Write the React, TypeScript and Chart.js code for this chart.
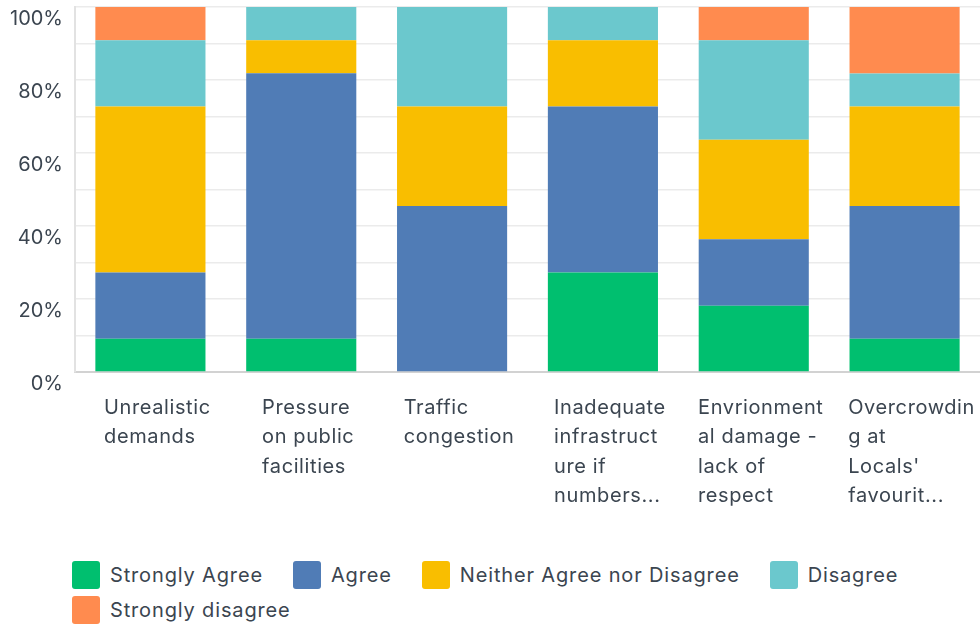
import React, { useEffect, useRef } from "react";
import { Chart, registerables } from "chart.js";

Chart.register(...registerables);

const categories: string[][] = [
  ["Unrealistic", "demands"],
  ["Pressure", "on public", "facilities"],
  ["Traffic", "congestion"],
  ["Inadequate", "infrastruct", "ure if", "numbers..."],
  ["Envrionment", "al damage -", "lack of", "respect"],
  ["Overcrowdin", "g at", "Locals'", "favourit..."],
];

const seriesNames = [
  "Strongly Agree",
  "Agree",
  "Neither Agree nor Disagree",
  "Disagree",
  "Strongly disagree",
];

const stronglyAgree = [9.09, 9.09, 0, 27.27, 18.18, 9.09];
const agree = [18.18, 72.73, 45.45, 45.45, 18.18, 36.36];
const neither = [45.45, 9.09, 27.27, 18.18, 27.27, 27.27];
const disagree = [18.18, 9.09, 27.27, 9.09, 27.27, 9.09];
const stronglyDisagree = [9.09, 0, 0, 0, 9.09, 18.18];

const seriesColors = ["#00bf6f", "#507cb6", "#f9be00", "#6bc8cd", "#ff8b4f"];

const FONT = "Inter, 'Open Sans', sans-serif";
const TEXT = "#3b4550";

const xLabelPlugin = {
  id: "xBlockLabels",
  afterDraw(chart: any) {
    const { ctx, chartArea } = chart;
    const x = chart.scales.x;
    ctx.save();
    ctx.font = `20px ${FONT}`;
    ctx.fillStyle = TEXT;
    ctx.textAlign = "left";
    ctx.textBaseline = "middle";
    (ctx as any).letterSpacing = "0.6px";
    categories.forEach((lines, i) => {
      const w = Math.max(...lines.map((l) => ctx.measureText(l).width));
      const left = x.getPixelForValue(i) - w / 2 + 7;
      lines.forEach((l, j) => ctx.fillText(l, left, chartArea.bottom + 36 + j * 29.3));
    });
    ctx.restore();
  },
};

export default function App() {
  const ref = useRef<HTMLCanvasElement | null>(null);

  useEffect(() => {
    document.body.style.margin = "0";
    const values = [stronglyAgree, agree, neither, disagree, stronglyDisagree];
    const chart = new Chart(ref.current as HTMLCanvasElement, {
      type: "bar",
      data: {
        labels: categories.map((c) => c.join(" ")),
        datasets: seriesNames.map((name, i) => ({
          label: name,
          data: values[i],
          backgroundColor: seriesColors[i],
          borderWidth: 0,
          barPercentage: 0.73,
          categoryPercentage: 1,
        })),
      },
      plugins: [xLabelPlugin],
      options: {
        animation: false,
        responsive: true,
        maintainAspectRatio: false,
        layout: { padding: { top: 7, left: 0, right: 0, bottom: 0 } },
        plugins: {
          legend: { display: false },
          tooltip: { enabled: false },
        },
        scales: {
          x: {
            stacked: true,
            offset: true,
            grid: { display: false },
            border: { display: true, color: "#d2d2d2", width: 2 },
            ticks: { display: false },
            afterFit: (s: any) => {
              s.height = 168;
              s.paddingLeft = 0;
              s.paddingRight = 0;
            },
          },
          y: {
            stacked: true,
            min: 0,
            max: 100,
            grid: { color: "#ebebeb", lineWidth: 1.5, drawTicks: false },
            border: { display: true, color: "#e2e2e2", width: 2 },
            ticks: {
              stepSize: 10,
              padding: 12,
              labelOffset: 12,
              color: TEXT,
              font: { family: FONT, size: 20 },
              callback: (v: any) => (Number(v) % 20 === 0 ? v + "%" : ""),
            },
            afterFit: (s: any) => {
              s.width = 75;
              s.paddingTop = 0;
              s.paddingBottom = 0;
            },
          },
        },
      },
    });
    return () => chart.destroy();
  }, []);

  return (
    <div style={{ width: 980, fontFamily: FONT }}>
      <div style={{ position: "relative", width: 980, height: 540 }}>
        <canvas ref={ref} />
      </div>
      <div
        style={{
          display: "flex",
          flexWrap: "wrap",
          columnGap: 30,
          rowGap: 7,
          paddingLeft: 72,
          paddingTop: 21,
          width: 860,
        }}
      >
        {seriesNames.map((name, i) => (
          <div key={name} style={{ display: "flex", alignItems: "center", height: 28 }}>
            <span
              style={{
                width: 28,
                height: 28,
                borderRadius: 3,
                background: seriesColors[i],
                display: "inline-block",
                marginRight: 10,
              }}
            />
            <span
              style={{ fontSize: 20, color: TEXT, whiteSpace: "nowrap", letterSpacing: "0.85px" }}
            >
              {name}
            </span>
          </div>
        ))}
      </div>
    </div>
  );
}
